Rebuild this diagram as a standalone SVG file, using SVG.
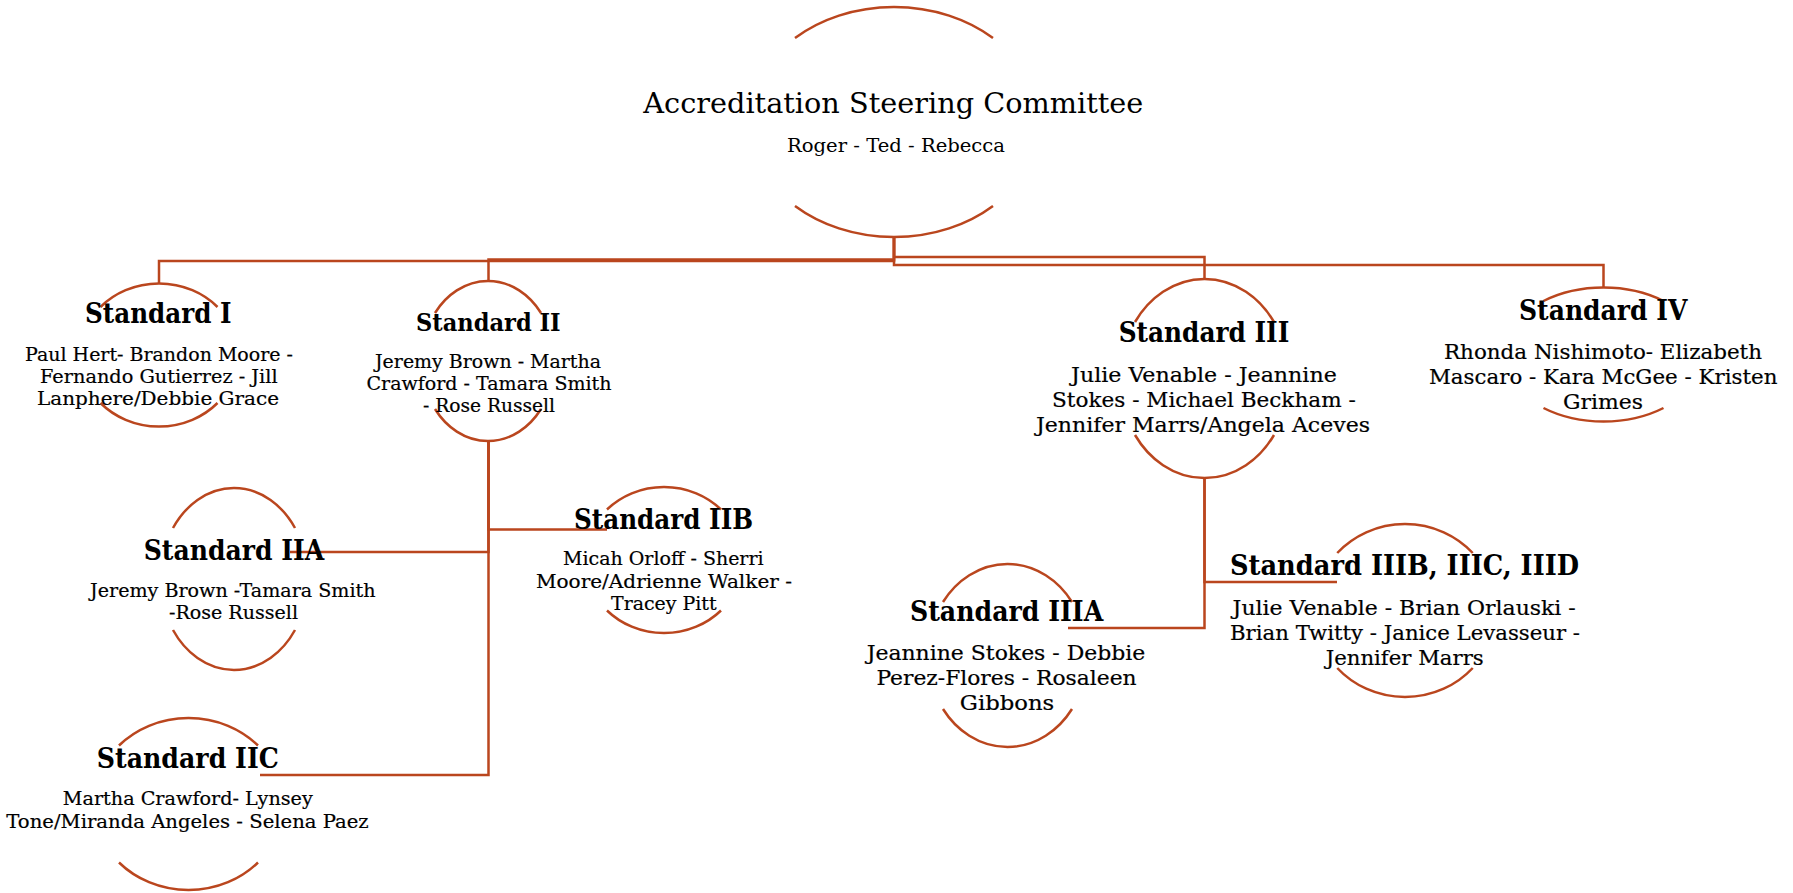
<svg xmlns="http://www.w3.org/2000/svg" width="1793" height="893" viewBox="0 0 1793 893">
<style>
  .arc { fill: none; stroke: #BA461E; stroke-width: 2.5; }
  .conn path { fill: none; stroke: #BA461E; stroke-width: 2.5; stroke-linejoin: miter; }
  text { font-family: "DejaVu Serif", "Liberation Serif", serif; fill: #000; text-anchor: middle; }
  .title { font-size: 27px; font-weight: bold; }
  .title.sm { font-size: 25px; }
  .body { font-size: 18.5px; stroke: #000; stroke-width: 0.2; }
  .body.lg { font-size: 20px; }
  .head { font-size: 27px; }
  .sub { font-size: 18px; }
</style>
<rect width="1793" height="893" fill="#fff"/>
<g id="connectors" class="conn">
  <path d="M894 237 V261 H159 V283"/>
  <path d="M894 237 V259.5 H488.5 V282"/>
  <path d="M894 237 V257 H1204.5 V279"/>
  <path d="M894 237 V265 H1603.5 V287"/>
  <path d="M488.5 441 V552 H290"/>
  <path d="M488.5 441 V529.5 H607"/>
  <path d="M488.5 441 V775 H260"/>
  <path d="M1204.5 478 V628 H1068"/>
  <path d="M1204.5 478 V582 H1337"/>
</g>
<g id="node-asc">
  <path class="arc" d="M795 38 A144.9 115 0 0 1 993 38"/>
  <path class="arc" d="M795 206 A144.9 115 0 0 0 993 206"/>
  <text class="head" x="893.3" y="113" textLength="500" lengthAdjust="spacingAndGlyphs">Accreditation Steering Committee</text>
  <text class="sub" x="896" y="152" textLength="218" lengthAdjust="spacingAndGlyphs">Roger - Ted - Rebecca</text>
</g>
<g id="node-std1">
  <path class="arc" d="M100.5 307 A78.9 71.5 0 0 1 217.5 307"/>
  <path class="arc" d="M100.5 403 A78.9 71.5 0 0 0 217.5 403"/>
  <text class="title" x="158.3" y="323" textLength="146.5" lengthAdjust="spacingAndGlyphs">Standard I</text>
  <text class="body" x="159" y="360.5" textLength="268" lengthAdjust="spacingAndGlyphs">Paul Hert- Brandon Moore -</text>
  <text class="body" x="158.8" y="382.5" textLength="237.5" lengthAdjust="spacingAndGlyphs">Fernando Gutierrez - Jill</text>
  <text class="body" x="158" y="405" textLength="242" lengthAdjust="spacingAndGlyphs">Lanphere/Debbie Grace</text>
</g>
<g id="node-std2">
  <path class="arc" d="M435 313 A66.25 80 0 0 1 541 313"/>
  <path class="arc" d="M435 409 A66.25 80 0 0 0 541 409"/>
  <text class="title sm" x="488.3" y="331" textLength="144.6" lengthAdjust="spacingAndGlyphs">Standard II</text>
  <text class="body" x="488" y="368" textLength="226" lengthAdjust="spacingAndGlyphs">Jeremy Brown - Martha</text>
  <text class="body" x="489" y="390" textLength="245" lengthAdjust="spacingAndGlyphs">Crawford - Tamara Smith</text>
  <text class="body" x="489" y="411.5" textLength="132" lengthAdjust="spacingAndGlyphs">- Rose Russell</text>
</g>
<g id="node-std3">
  <path class="arc" d="M1135 322 A84.4 99.5 0 0 1 1274 322"/>
  <path class="arc" d="M1135 435 A84.4 99.5 0 0 0 1274 435"/>
  <text class="title" x="1204" y="342" textLength="170.6" lengthAdjust="spacingAndGlyphs">Standard III</text>
  <text class="body lg" x="1203.9" y="382" textLength="265.7" lengthAdjust="spacingAndGlyphs">Julie Venable - Jeannine</text>
  <text class="body lg" x="1203.9" y="407" textLength="303.7" lengthAdjust="spacingAndGlyphs">Stokes - Michael Beckham -</text>
  <text class="body lg" x="1203" y="432" textLength="334" lengthAdjust="spacingAndGlyphs">Jennifer Marrs/Angela Aceves</text>
</g>
<g id="node-std4">
  <path class="arc" d="M1543.5 301 A99.7 67 0 0 1 1663.5 301"/>
  <path class="arc" d="M1543.5 408 A99.7 67 0 0 0 1663.5 408"/>
  <text class="title" x="1603.2" y="320" textLength="168.4" lengthAdjust="spacingAndGlyphs">Standard IV</text>
  <text class="body lg" x="1603" y="358.5" textLength="318" lengthAdjust="spacingAndGlyphs">Rhonda Nishimoto- Elizabeth</text>
  <text class="body lg" x="1603.2" y="383.5" textLength="348.4" lengthAdjust="spacingAndGlyphs">Mascaro - Kara McGee - Kristen</text>
  <text class="body lg" x="1603" y="408.5" textLength="80" lengthAdjust="spacingAndGlyphs">Grimes</text>
</g>
<g id="node-std2a">
  <path class="arc" d="M173 528 A73.7 91 0 0 1 295 528"/>
  <path class="arc" d="M173 630 A73.7 91 0 0 0 295 630"/>
  <text class="title" x="234" y="559.5" textLength="180.5" lengthAdjust="spacingAndGlyphs">Standard IIA</text>
  <text class="body" x="232.8" y="597" textLength="285.5" lengthAdjust="spacingAndGlyphs">Jeremy Brown -Tamara Smith</text>
  <text class="body" x="233.5" y="618.5" textLength="129" lengthAdjust="spacingAndGlyphs">-Rose Russell</text>
</g>
<g id="node-std2b">
  <path class="arc" d="M607 509.5 A78.9 73 0 0 1 721 509.5"/>
  <path class="arc" d="M607 610.5 A78.9 73 0 0 0 721 610.5"/>
  <text class="title" x="663.5" y="528.5" textLength="179" lengthAdjust="spacingAndGlyphs">Standard IIB</text>
  <text class="body" x="663.3" y="565" textLength="200.6" lengthAdjust="spacingAndGlyphs">Micah Orloff - Sherri</text>
  <text class="body" x="664" y="587.5" textLength="256" lengthAdjust="spacingAndGlyphs">Moore/Adrienne Walker -</text>
  <text class="body" x="663.8" y="610" textLength="105.5" lengthAdjust="spacingAndGlyphs">Tracey Pitt</text>
</g>
<g id="node-std2c">
  <path class="arc" d="M119 745.5 A94.8 86 0 0 1 258 745.5"/>
  <path class="arc" d="M119 862.5 A94.8 86 0 0 0 258 862.5"/>
  <text class="title" x="187.8" y="767.5" textLength="182" lengthAdjust="spacingAndGlyphs">Standard IIC</text>
  <text class="body" x="187.8" y="805" textLength="250" lengthAdjust="spacingAndGlyphs">Martha Crawford- Lynsey</text>
  <text class="body" x="187.5" y="827.5" textLength="362.4" lengthAdjust="spacingAndGlyphs">Tone/Miranda Angeles - Selena Paez</text>
</g>
<g id="node-std3a">
  <path class="arc" d="M943 602 A79.5 91.5 0 0 1 1072 602"/>
  <path class="arc" d="M943 709 A79.5 91.5 0 0 0 1072 709"/>
  <text class="title" x="1006.6" y="621" textLength="193.2" lengthAdjust="spacingAndGlyphs">Standard IIIA</text>
  <text class="body lg" x="1006" y="660" textLength="278.7" lengthAdjust="spacingAndGlyphs">Jeannine Stokes - Debbie</text>
  <text class="body lg" x="1006.5" y="685" textLength="260.2" lengthAdjust="spacingAndGlyphs">Perez-Flores - Rosaleen</text>
  <text class="body lg" x="1007" y="709.5" textLength="94.5" lengthAdjust="spacingAndGlyphs">Gibbons</text>
</g>
<g id="node-std3bcd">
  <path class="arc" d="M1337.25 553 A90.7 86.5 0 0 1 1472.75 553"/>
  <path class="arc" d="M1337.25 668 A90.7 86.5 0 0 0 1472.75 668"/>
  <text class="title" x="1404.5" y="575" textLength="349" lengthAdjust="spacingAndGlyphs">Standard IIIB, IIIC, IIID</text>
  <text class="body lg" x="1404.2" y="615" textLength="343.2" lengthAdjust="spacingAndGlyphs">Julie Venable - Brian Orlauski -</text>
  <text class="body lg" x="1405" y="640" textLength="350" lengthAdjust="spacingAndGlyphs">Brian Twitty - Janice Levasseur -</text>
  <text class="body lg" x="1404.7" y="665" textLength="158" lengthAdjust="spacingAndGlyphs">Jennifer Marrs</text>
</g>
</svg>
